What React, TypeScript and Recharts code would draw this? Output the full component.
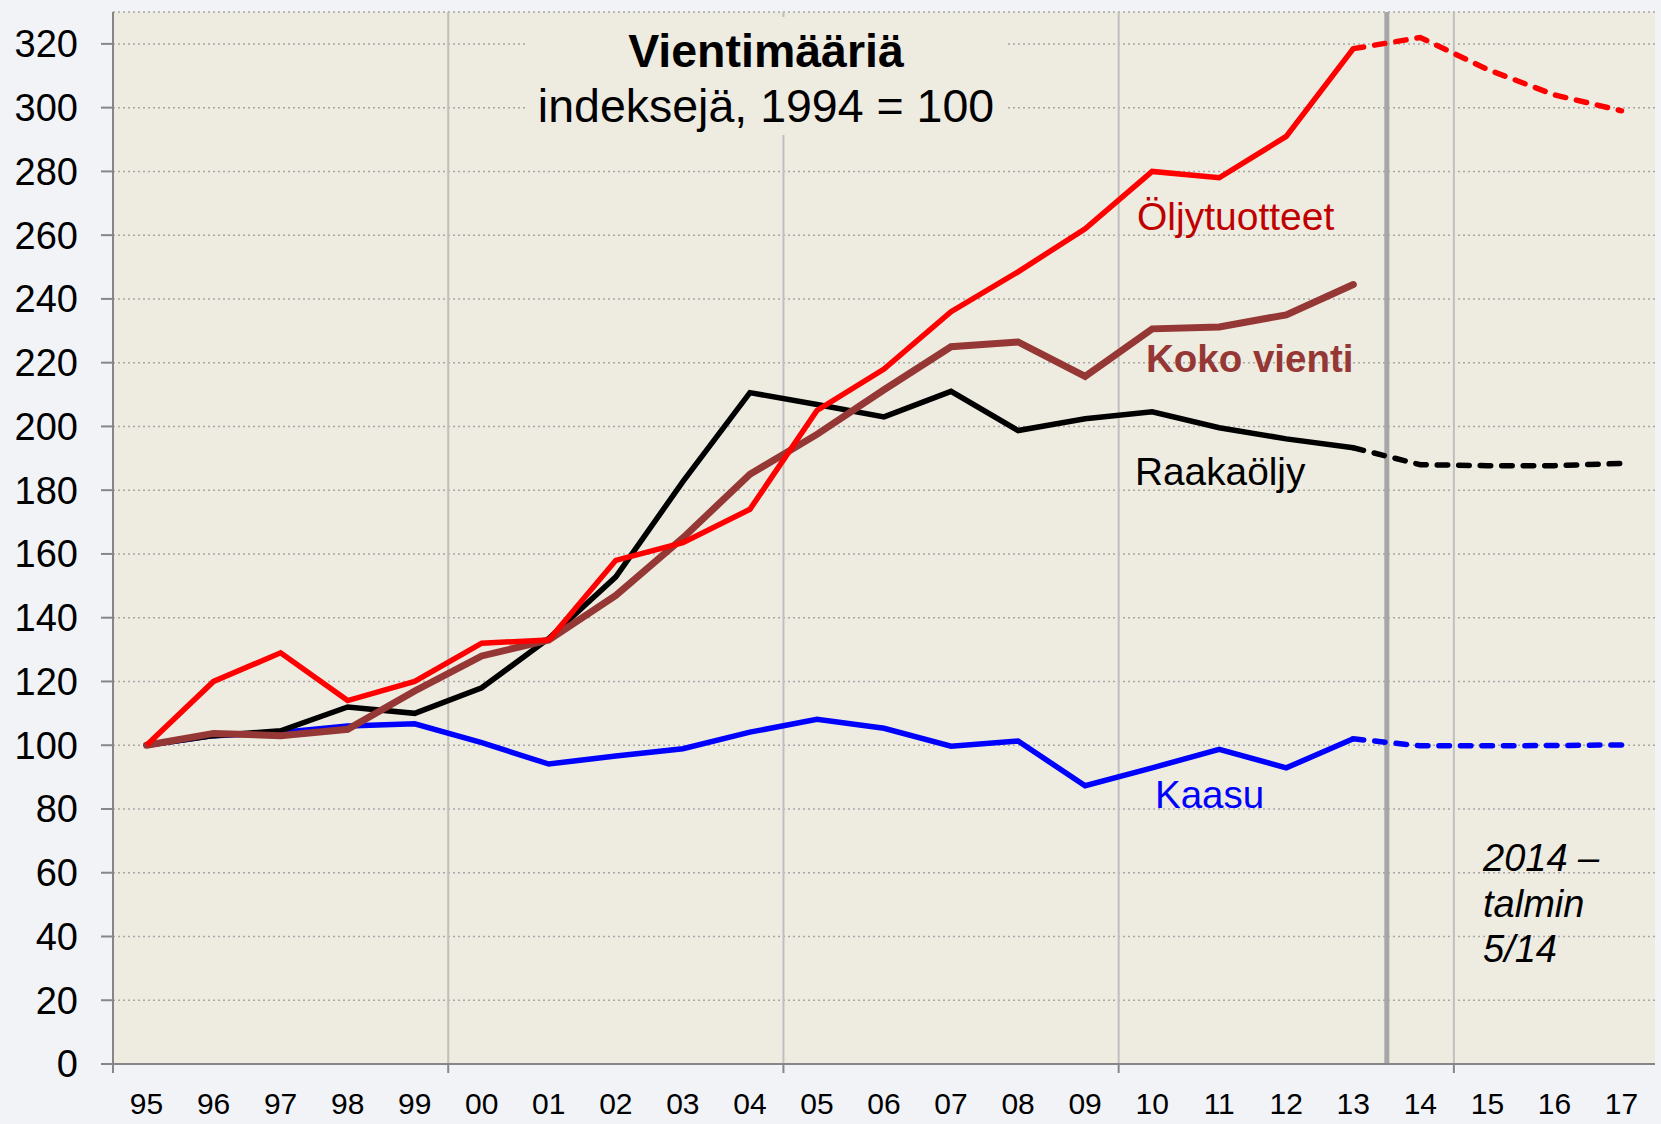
import React from "react";
import { LineChart, Line, XAxis, YAxis, CartesianGrid, ReferenceLine } from "recharts";

// vuodet 1995-2017, 13 = viimeinen toteutunut
const years = ["95", "96", "97", "98", "99", "00", "01", "02", "03", "04", "05", "06", "07", "08", "09", "10", "11", "12", "13", "14", "15", "16", "17"];
const lastActual = 18;

const oljytuotteet = [100, 120, 129, 114, 120, 132, 133, 158, 163.5, 174, 205, 218, 236, 248.5, 262, 280, 278, 291, 318.5];
const oljytuotteetEnnuste = [318.5, 322, 312, 304, 299];

const kokoVienti = [100, 103.7, 103, 105, 117, 128, 133, 147, 165, 185, 197.5, 211.5, 225, 226.5, 215.7, 230.6, 231.2, 235, 244.5];

const raakaoljy = [100, 103, 104.5, 112, 110, 118, 133.5, 152.8, 182.7, 210.6, 206.9, 203, 211, 198.7, 202.4, 204.6, 199.6, 196.1, 193.3];
const raakaoljyEnnuste = [193.3, 188, 187.7, 187.7, 188.4];

const kaasu = [100, 103, 104, 106, 106.7, 100.8, 94.1, 96.6, 98.9, 104.1, 108.1, 105.3, 99.7, 101.3, 87.3, 92.9, 98.7, 92.9, 102];
const kaasuEnnuste = [102, 99.8, 99.8, 99.9, 100.1];

const yTicks = [0, 20, 40, 60, 80, 100, 120, 140, 160, 180, 200, 220, 240, 260, 280, 300, 320];
const separators = [4.5, 9.5, 14.5, 19.5];
const axisMarks = [-0.5, 4.5, 9.5, 14.5, 19.5];

const data = years.map((label, i) => ({
  i,
  label,
  oljy: i <= lastActual ? oljytuotteet[i] : null,
  oljyF: i >= lastActual ? oljytuotteetEnnuste[i - lastActual] : null,
  koko: i <= lastActual ? kokoVienti[i] : null,
  raaka: i <= lastActual ? raakaoljy[i] : null,
  raakaF: i >= lastActual ? raakaoljyEnnuste[i - lastActual] : null,
  kaasu: i <= lastActual ? kaasu[i] : null,
  kaasuF: i >= lastActual ? kaasuEnnuste[i - lastActual] : null,
}));

const FONT = "'Liberation Sans', Arial, sans-serif";
const BG = "#EEEBE0";
const AXIS = "#868686";

const XTick = ({ x, y, payload }: any) => {
  const v = payload.value;
  if (!Number.isInteger(v)) {
    return <line x1={x} x2={x} y1={y} y2={y + 9} stroke={AXIS} strokeWidth={2} />;
  }
  return (
    <text x={x} y={y + 29} dy="0.71em" textAnchor="middle" fontSize={30} fill="#000" fontFamily={FONT}>
      {years[v]}
    </text>
  );
};

const DASH = "10.5 11";
const W = 5.5;

export default function App() {
  const xTicks = [...years.map((_, i) => i), ...axisMarks];
  return (
    <div style={{ position: "absolute", left: 0, top: 0, width: 1661, height: 1124, background: "#F1F3F6", fontFamily: FONT }}>
      <LineChart width={1661} height={1124} data={data} margin={{ top: 12, right: 6, left: 0, bottom: 0 }}>
        <CartesianGrid vertical={false} fill={BG} stroke="#A6A6A6" strokeDasharray="2 3" strokeWidth={1.5} />
        <XAxis
          dataKey="i"
          type="number"
          domain={[-0.5, 22.5]}
          ticks={xTicks}
          interval={0}
          height={60}
          tick={<XTick />}
          tickLine={false}
          tickSize={0}
          tickMargin={0}
          stroke={AXIS}
          strokeWidth={2}
          allowDataOverflow
        />
        <YAxis
          type="number"
          domain={[0, 330]}
          ticks={yTicks}
          interval={0}
          width={113}
          tickSize={12}
          tickMargin={23}
          stroke={AXIS}
          strokeWidth={2}
          tick={{ fontSize: 38, fill: "#000", fontFamily: FONT }}
        />
        {separators.map((s) => (
          <ReferenceLine key={s} x={s} stroke="#BFBFBF" strokeWidth={2} />
        ))}
        <ReferenceLine x={18.5} stroke="#A6A6A6" strokeWidth={5} />

        <Line dataKey="kaasu" stroke="#0000FF" strokeWidth={W} dot={false} activeDot={false} isAnimationActive={false} />
        <Line dataKey="kaasuF" stroke="#0000FF" strokeWidth={W} strokeDasharray={DASH} strokeLinecap="round" dot={false} activeDot={false} isAnimationActive={false} />
        <Line dataKey="raaka" stroke="#000000" strokeWidth={W} dot={false} activeDot={false} isAnimationActive={false} />
        <Line dataKey="raakaF" stroke="#000000" strokeWidth={W} strokeDasharray={DASH} strokeLinecap="round" dot={false} activeDot={false} isAnimationActive={false} />
        <Line dataKey="koko" stroke="#953735" strokeWidth={7} strokeLinecap="round" dot={false} activeDot={false} isAnimationActive={false} />
        <Line dataKey="oljy" stroke="#FF0000" strokeWidth={W} dot={false} activeDot={false} isAnimationActive={false} />
        <Line dataKey="oljyF" stroke="#FF0000" strokeWidth={W} strokeDasharray={DASH} strokeLinecap="round" dot={false} activeDot={false} isAnimationActive={false} />
      </LineChart>

      <svg width={1661} height={1124} style={{ position: "absolute", left: 0, top: 0, pointerEvents: "none" }} fontFamily={FONT}>
        <rect x={525} y={17} width={482} height={118} fill={BG} />
        <text x={766} y={67} textAnchor="middle" fontSize={46.5} fontWeight="bold" fill="#000">Vientimääriä</text>
        <text x={766} y={122} textAnchor="middle" fontSize={46.5} fill="#000">indeksejä, 1994 = 100</text>

        <text x={1137} y={230} fontSize={39} fill="#C00000">Öljytuotteet</text>
        <text x={1146} y={372} fontSize={38.5} fontWeight="bold" fill="#953735">Koko vienti</text>
        <text x={1135} y={485} fontSize={38.8} fill="#000">Raakaöljy</text>
        <text x={1155} y={808} fontSize={38.5} fill="#0000FF">Kaasu</text>

        <text fontSize={38} fontStyle="italic" fill="#000">
          <tspan x={1483} y={871}>2014 –</tspan>
          <tspan x={1483} y={917}>talmin</tspan>
          <tspan x={1483} y={962}>5/14</tspan>
        </text>
      </svg>
    </div>
  );
}
